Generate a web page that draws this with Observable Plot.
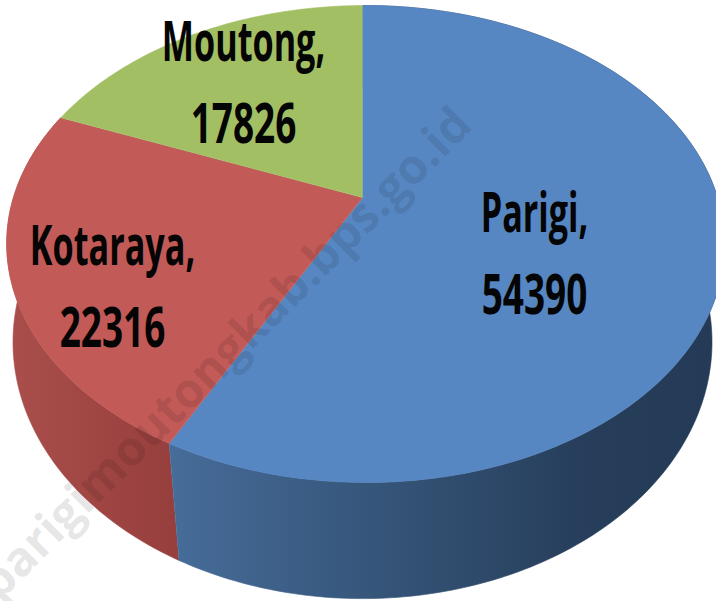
<!DOCTYPE html>
<html><head><meta charset="utf-8">
<style>html,body{margin:0;padding:0;background:#fff;overflow:hidden}svg{display:block}</style>
<script src="https://cdn.jsdelivr.net/npm/d3@7"></script>
<script src="https://cdn.jsdelivr.net/npm/@observablehq/plot@0.6"></script>
</head><body>
<script>
const regions = ["Parigi", "Kotaraya", "Moutong"];
const values = [54390, 22316, 17826];
const topColors = ["#5787c2", "#c25a58", "#a3bf64"];
const watermark = "parigimoutongkab.bps.go.id";

// Perspective view of the top and bottom discs
const topDisc = {cx: 362, cy: 197, a: 352, b: 229.4, k: 0.195, j: 0.0085};
const bottomDisc = {cx: 362, cy: 300.5, a: 345, b: 250, k: 0.16, j: 0};
const labelAt = [{x: 534, y: 246}, {x: 112, y: 279}, {x: 243, y: 75}];
const squeezeName = 0.61, squeezeNumber = 0.66;

const total = d3.sum(values);
let acc = 0;
const slices = regions.map((name, i) => {
  const start = acc / total * 360; acc += values[i];
  return {name, value: values[i], start, end: acc / total * 360, color: topColors[i]};
});
function project(deg, disc) {
  const t = deg * Math.PI / 180, u = Math.sin(t), v = -Math.cos(t);
  const w = 1 - disc.k * v - disc.j * u;
  return {x: disc.cx + disc.a * u / w, y: disc.cy + disc.b * v / w};
}
const arc = (a, b, disc) => {
  const n = Math.ceil(Math.abs(b - a));
  return d3.range(n + 1).map(i => project(a + (b - a) * i / n, disc));
};
const wedge = s => [{x: topDisc.cx, y: topDisc.cy}, ...arc(s.start, s.end, topDisc)];
const side = s => [...arc(s.start, s.end, topDisc), ...arc(s.end, s.start, bottomDisc)];

function gradient(id, stops) {
  const g = d3.create("svg:linearGradient").attr("id", id)
    .attr("gradientUnits", "userSpaceOnUse")
    .attr("x1", 0).attr("x2", 716).attr("y1", 0).attr("y2", 0);
  stops.forEach(([o, c]) => g.append("stop").attr("offset", o).attr("stop-color", c));
  return g.node();
}
const defs = () => {
  const d = d3.create("svg:defs");
  d.node().append(
    gradient("sideBlue", [[0.24, "#466c99"], [0.5, "#37577c"], [0.8, "#273f5c"], [1, "#243a56"]]),
    gradient("sideRed", [[0, "#aa4f4c"], [0.24, "#973f3d"]])
  );
  return d.node();
};

const fillLine = (pts, fill) => Plot.line(pts, {x: "x", y: "y", fill, stroke: fill, strokeWidth: 0.6, curve: "linear"});

const plot = Plot.plot({
  width: 716, height: 601,
  margin: 0,
  x: {type: "identity", axis: null}, y: {type: "identity", axis: null},
  style: {background: "#fff"},
  marks: [
    defs,
    fillLine(side(slices[1]), "url(#sideRed)"),
    fillLine(side(slices[0]), "url(#sideBlue)"),
    ...slices.map(s => fillLine(wedge(s), s.color)),
    Plot.text(slices, {
      x: (d, i) => labelAt[i].x, y: (d, i) => labelAt[i].y,
      text: d => `${d.name},\n${d.value}`,
      fontFamily: "Open Sans", fontWeight: 700, fontSize: 56,
      lineHeight: 1.46, lineAnchor: "middle", textAnchor: "middle", fill: "#050505",
      className: "pie-label"
    }),
    Plot.text([watermark], {
      x: () => 463, y: () => 116, text: d => d, rotate: -45, textAnchor: "end",
      lineAnchor: "middle", fontFamily: "Open Sans", fontWeight: 700, fontSize: 48,
      fill: "#000", fillOpacity: 0.11
    })
  ]
});
document.body.append(plot);
plot.querySelectorAll(".pie-label tspan").forEach(t => {
  const s = /^\d/.test(t.textContent) ? squeezeNumber : squeezeName;
  t.setAttribute("textLength", t.getComputedTextLength() * s);
  t.setAttribute("lengthAdjust", "spacingAndGlyphs");
});
</script>
</body></html>
